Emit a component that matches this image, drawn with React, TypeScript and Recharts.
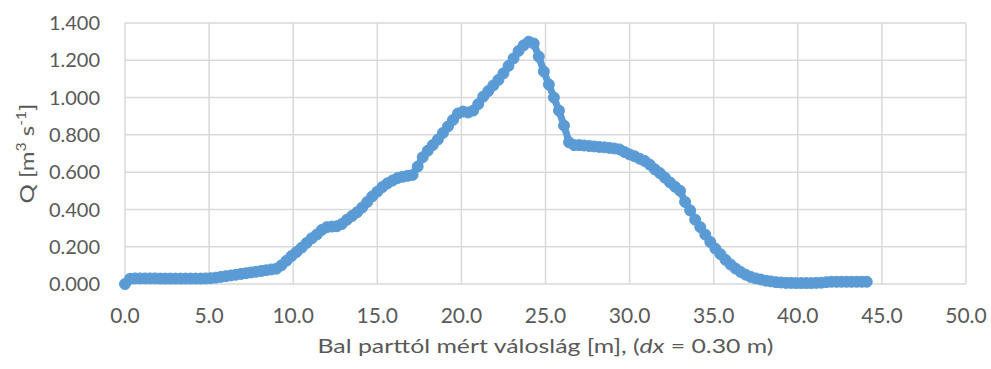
// Discharge profile across the section (Q vs distance from left bank)

import { LineChart, Line, XAxis, YAxis, CartesianGrid } from "recharts";

// ── Data ─────────────────────────────────────────────────────────────────────

// distance from left bank [m], dx = 0.30 m
const DISTANCE = [
  0.0, 0.3, 0.6, 0.9, 1.2, 1.5, 1.8, 2.1, 2.4, 2.7,
  3.0, 3.3, 3.6, 3.9, 4.2, 4.5, 4.8, 5.1, 5.4, 5.7,
  6.0, 6.3, 6.6, 6.9, 7.2, 7.5, 7.8, 8.1, 8.4, 8.7,
  9.0, 9.3, 9.6, 9.9, 10.2, 10.5, 10.8, 11.1, 11.4, 11.7,
  12.0, 12.3, 12.6, 12.9, 13.2, 13.5, 13.8, 14.1, 14.4, 14.7,
  15.0, 15.3, 15.6, 15.9, 16.2, 16.5, 16.8, 17.1, 17.4, 17.7,
  18.0, 18.3, 18.6, 18.9, 19.2, 19.5, 19.8, 20.1, 20.4, 20.7,
  21.0, 21.3, 21.6, 21.9, 22.2, 22.5, 22.8, 23.1, 23.4, 23.7,
  24.0, 24.3, 24.6, 24.9, 25.2, 25.5, 25.8, 26.1, 26.4, 26.7,
  27.0, 27.3, 27.6, 27.9, 28.2, 28.5, 28.8, 29.1, 29.4, 29.7,
  30.0, 30.3, 30.6, 30.9, 31.2, 31.5, 31.8, 32.1, 32.4, 32.7,
  33.0, 33.3, 33.6, 33.9, 34.2, 34.5, 34.8, 35.1, 35.4, 35.7,
  36.0, 36.3, 36.6, 36.9, 37.2, 37.5, 37.8, 38.1, 38.4, 38.7,
  39.0, 39.3, 39.6, 39.9, 40.2, 40.5, 40.8, 41.1, 41.4, 41.7,
  42.0, 42.3, 42.6, 42.9, 43.2, 43.5, 43.8, 44.1,
];

// discharge Q [m3 s-1]
const DISCHARGE = [
  0.000, 0.028, 0.030, 0.030, 0.030, 0.030, 0.030, 0.029, 0.029, 0.029,
  0.029, 0.029, 0.029, 0.029, 0.029, 0.029, 0.030, 0.031, 0.034, 0.038,
  0.042, 0.046, 0.050, 0.054, 0.058, 0.062, 0.066, 0.070, 0.074, 0.078,
  0.082, 0.100, 0.125, 0.150, 0.172, 0.195, 0.220, 0.245, 0.265, 0.290,
  0.305, 0.308, 0.310, 0.322, 0.345, 0.365, 0.385, 0.410, 0.440, 0.470,
  0.495, 0.520, 0.540, 0.555, 0.568, 0.575, 0.580, 0.585, 0.630, 0.680,
  0.715, 0.745, 0.775, 0.810, 0.845, 0.880, 0.915, 0.925, 0.920, 0.930,
  0.965, 1.005, 1.035, 1.065, 1.095, 1.130, 1.170, 1.210, 1.250, 1.280,
  1.300, 1.290, 1.220, 1.140, 1.070, 1.000, 0.930, 0.850, 0.760, 0.745,
  0.745, 0.743, 0.740, 0.738, 0.735, 0.733, 0.730, 0.727, 0.722, 0.708,
  0.695, 0.685, 0.672, 0.660, 0.640, 0.615, 0.595, 0.570, 0.545, 0.522,
  0.500, 0.440, 0.395, 0.345, 0.305, 0.265, 0.225, 0.190, 0.160, 0.130,
  0.105, 0.083, 0.065, 0.050, 0.038, 0.030, 0.024, 0.018, 0.014, 0.010,
  0.008, 0.006, 0.006, 0.005, 0.005, 0.005, 0.005, 0.006, 0.007, 0.010,
  0.012, 0.012, 0.012, 0.012, 0.012, 0.012, 0.012, 0.012,
];

const X_TICKS = [0, 5, 10, 15, 20, 25, 30, 35, 40, 45, 50];
const Y_TICKS = [0, 0.2, 0.4, 0.6, 0.8, 1.0, 1.2, 1.4];

const data = DISTANCE.map((x, i) => ({ x, q: DISCHARGE[i] }));

// ── Styling ──────────────────────────────────────────────────────────────────

const FONT = "Lato, 'Open Sans', sans-serif";
const TEXT = "#595959";
const GRID = "#d9d9d9";
const BLUE = "#5B9BD5";

// ── Axis titles ──────────────────────────────────────────────────────────────

function XTitle(props: any) {
  const vb = props.viewBox || { x: 125, y: 284, width: 841 };
  return (
    <text
      x={vb.x + vb.width / 2}
      y={vb.y + 69}
      textAnchor="middle"
      fill={TEXT}
      fontSize={20}
      fontFamily={FONT}
      textLength={456}
      lengthAdjust="spacingAndGlyphs"
    >
      Bal parttól mért váloslág [m], (<tspan fontStyle="italic">dx</tspan> = 0.30 m)
    </text>
  );
}

function YTitle(props: any) {
  const vb = props.viewBox || { x: 0, y: 23, width: 125, height: 261 };
  const cx = 34;
  const cy = vb.y + vb.height / 2;
  return (
    <text
      x={cx}
      y={cy}
      transform={`rotate(-90 ${cx} ${cy})`}
      textAnchor="middle"
      fill={TEXT}
      fontSize={20}
      fontFamily={FONT}
      textLength={100}
      lengthAdjust="spacingAndGlyphs"
    >
      Q [m<tspan baselineShift="super" fontSize={13}>3</tspan> s<tspan baselineShift="super" fontSize={13}>-1</tspan>]
    </text>
  );
}

// ── Main ─────────────────────────────────────────────────────────────────────

export default function App() {
  return (
    <div
      style={{
        position: "absolute",
        left: 0,
        top: 0,
        width: 991,
        height: 369,
        background: "#fff",
      }}
    >
      <LineChart
        width={991}
        height={369}
        data={data}
        margin={{ top: 23, right: 25, bottom: 0, left: 0 }}
      >
        <CartesianGrid stroke={GRID} strokeWidth={1.5} />
        <XAxis
          dataKey="x"
          type="number"
          domain={[0, 50]}
          ticks={X_TICKS}
          tickFormatter={(v: number) => v.toFixed(1)}
          axisLine={false}
          tickLine={false}
          tickSize={0}
          tickMargin={24}
          height={85}
          tick={{ fill: TEXT, fontSize: 21, fontFamily: FONT }}
          label={{ content: XTitle }}
        />
        <YAxis
          type="number"
          domain={[0, 1.4]}
          ticks={Y_TICKS}
          tickFormatter={(v: number) => v.toFixed(3)}
          axisLine={false}
          tickLine={false}
          tickSize={0}
          tickMargin={25}
          width={125}
          tick={{ fill: TEXT, fontSize: 20, fontFamily: FONT }}
          label={{ content: YTitle }}
        />
        <Line
          dataKey="q"
          type="linear"
          stroke={BLUE}
          strokeWidth={7}
          strokeLinejoin="round"
          dot={{ r: 5.5, fill: BLUE, stroke: BLUE, strokeWidth: 1 }}
          activeDot={false}
          isAnimationActive={false}
        />
      </LineChart>
    </div>
  );
}
